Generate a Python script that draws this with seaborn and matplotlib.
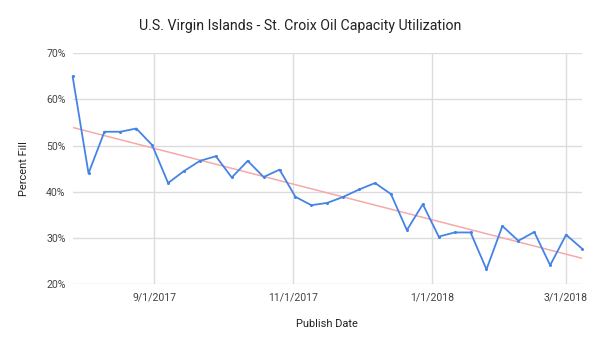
import numpy as np
import pandas as pd
import matplotlib
matplotlib.use("Agg")
import matplotlib.pyplot as plt
import matplotlib.dates as mdates
from matplotlib.ticker import FuncFormatter, FixedLocator
import seaborn as sns

# ---- data ----
start_date = "2017-07-27"
n_weeks = 33
percent_fill = [65.0, 44.0, 53.0, 53.0, 53.7, 50.1, 41.9, 44.5, 46.7, 47.7,
                43.1, 46.7, 43.2, 44.8, 38.9, 37.1, 37.6, 38.9, 40.5, 41.9,
                39.5, 31.7, 37.3, 30.3, 31.2, 31.2, 23.2, 32.6, 29.4, 31.3,
                24.1, 30.7, 27.7]
tick_dates = ["2017-09-01", "2017-11-01", "2018-01-01", "2018-03-01"]
y_ticks = [20, 30, 40, 50, 60, 70]

title = "U.S. Virgin Islands - St. Croix Oil Capacity Utilization"
x_label = "Publish Date"
y_label = "Percent Fill"

dates = pd.date_range(start_date, periods=n_weeks, freq="7D")
df = pd.DataFrame({"date": dates, "fill": percent_fill})

sns.set_theme(style="whitegrid")
plt.rcParams["font.family"] = ["Roboto", "DejaVu Sans"]

fig = plt.figure(figsize=(6, 3.5), dpi=100)
ax = fig.add_axes([0.121, 0.188, 0.849, 0.660])

# trendline (least squares)
xnum = mdates.date2num(df["date"])
slope, intercept = np.polyfit(xnum, df["fill"], 1)
trend = pd.DataFrame({"date": df["date"], "trend": slope * xnum + intercept})
sns.lineplot(data=trend, x="date", y="trend", ax=ax, color="#f6a9a9", linewidth=1.1)

sns.lineplot(data=df, x="date", y="fill", ax=ax, color="#4683e6", linewidth=1.3,
             marker="o", markersize=2.2, markeredgewidth=0, clip_on=False)

ax.set_xlim(dates[0], dates[-1])
ax.set_ylim(20, 70)
ax.set_yticks(y_ticks)
ax.yaxis.set_major_formatter(FuncFormatter(lambda v, p: f"{int(v)}%"))
ax.xaxis.set_major_locator(FixedLocator(mdates.date2num(pd.to_datetime(tick_dates))))
ax.xaxis.set_major_formatter(FuncFormatter(
    lambda v, p: (lambda d: f"{d.month}/{d.day}/{d.year}")(mdates.num2date(v))))

for s in ax.spines.values():
    s.set_visible(False)
ax.grid(True, color="#dcdcdc", linewidth=1.0)
ax.tick_params(axis="both", length=0, labelsize=7.6, labelcolor="#444444")
ax.tick_params(axis="y", pad=5)
ax.tick_params(axis="x", pad=6)

ax.set_xlabel(x_label, fontsize=7.9, color="#222222", labelpad=12)
ax.set_ylabel(y_label, fontsize=7.9, color="#222222", labelpad=12)
fig.suptitle(title, x=0.5, y=0.945, fontsize=10.2, color="#222222")

fig.savefig("out.png", dpi=100, facecolor="white")
